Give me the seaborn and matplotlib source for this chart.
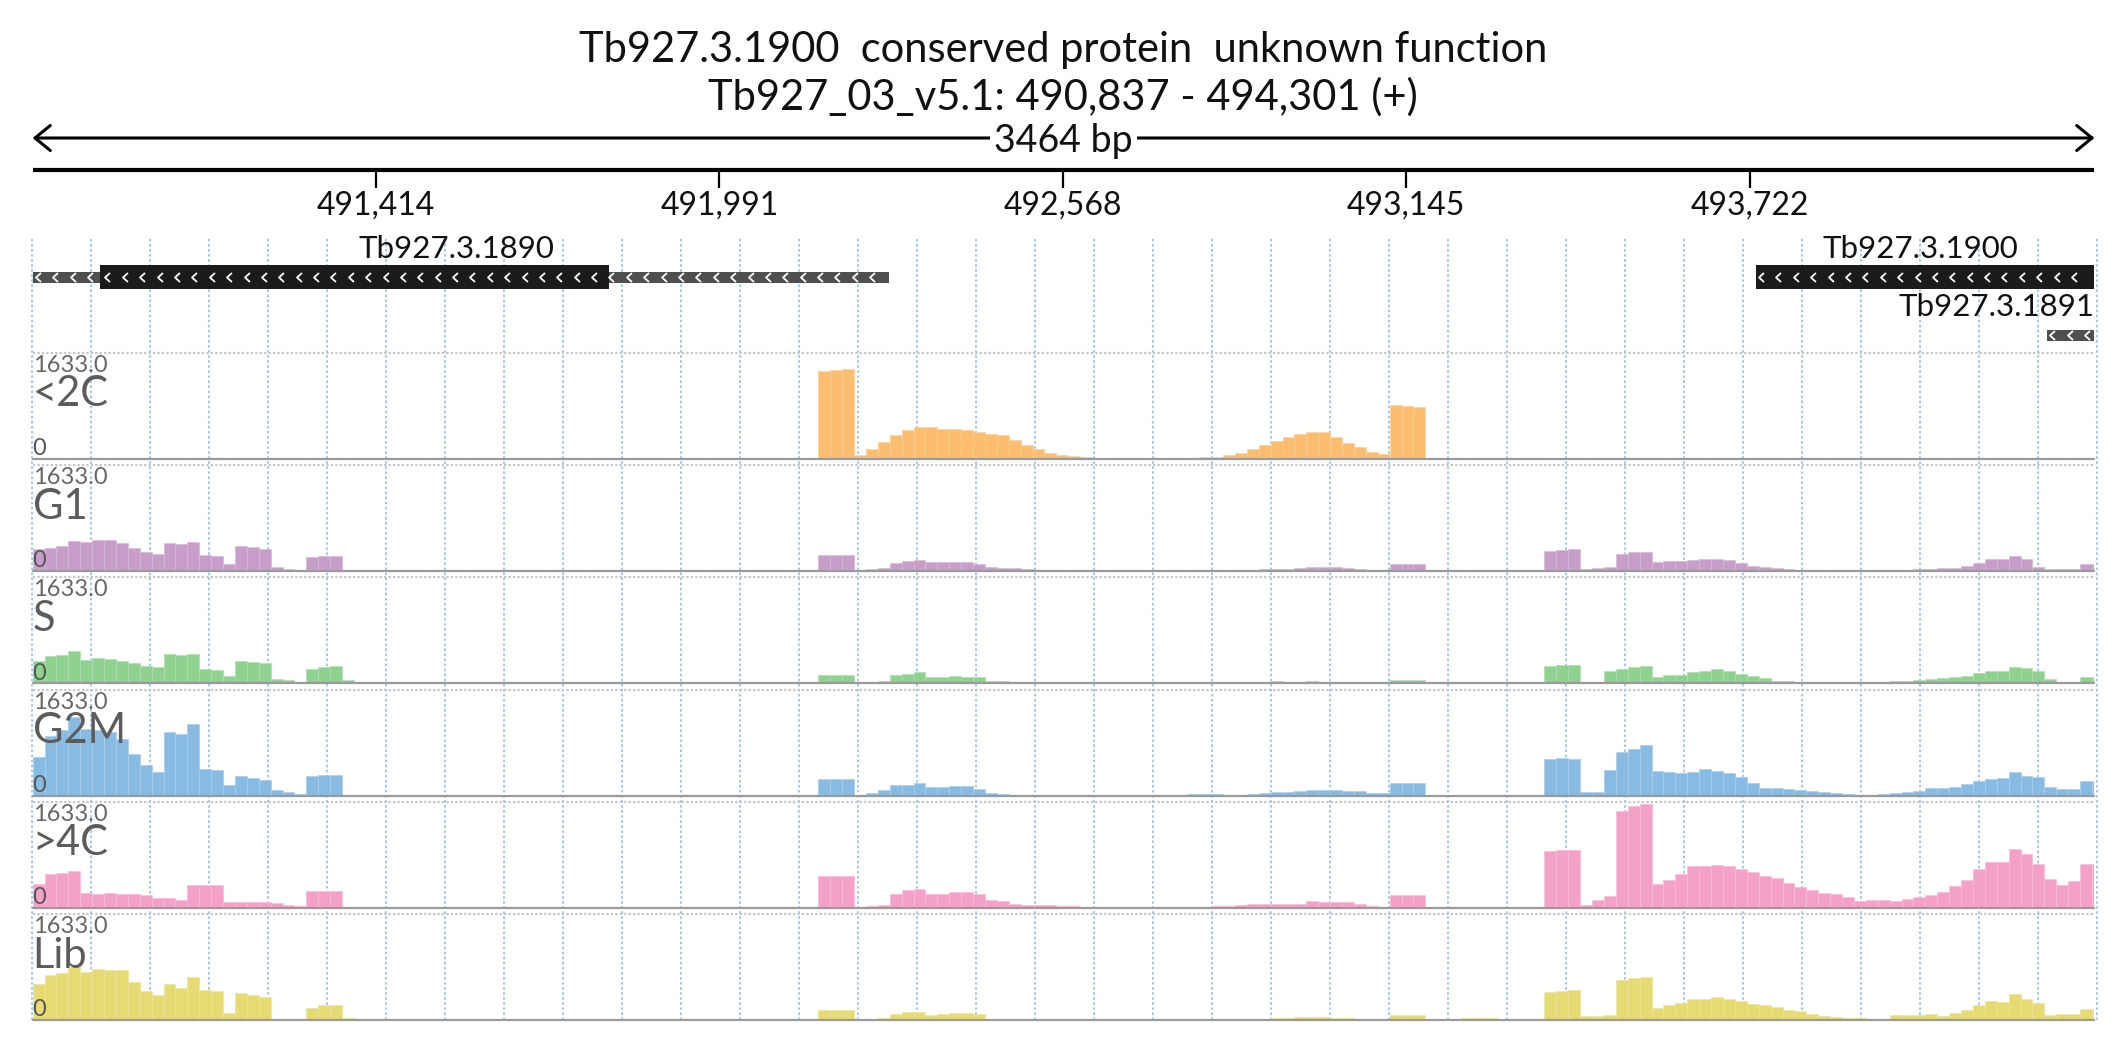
import numpy as np
import pandas as pd
import matplotlib
matplotlib.use("Agg")
import matplotlib.pyplot as plt
import seaborn as sns
from matplotlib.path import Path

sns.set_theme(style="white")
plt.rcParams["font.family"] = ["Lato", "DejaVu Sans"]

# ---------------- data ----------------
TITLE = "Tb927.3.1900  conserved protein  unknown function"
SUBTITLE = "Tb927_03_v5.1: 490,837 - 494,301 (+)"
REGION_START = 490837
REGION_END = 494301
BIN_BP = 20
YMAX = 1633.0
tick_positions = [491414, 491991, 492568, 493145, 493722]

gene_names = ["Tb927.3.1890", "Tb927.3.1900", "Tb927.3.1891"]
gene_starts = [490837, 493732, 494221]
gene_ends = [492276, 494301, 494301]
cds_starts = [490950, 493732, None]
cds_ends = [491805, 494301, None]
gene_rows = [0, 0, 1]

track_names = ["<2C", "G1", "S", "G2M", ">4C", "Lib"]

cov_lt2c = [
    0, 0, 0, 0, 0, 0, 0, 0, 0, 0,
    0, 0, 0, 0, 0, 0, 0, 0, 0, 0,
    0, 0, 0, 0, 0, 0, 0, 0, 0, 0,
    0, 0, 0, 0, 0, 0, 0, 0, 0, 0,
    0, 0, 0, 0, 0, 0, 0, 0, 0, 0,
    0, 0, 0, 0, 0, 0, 0, 0, 0, 0,
    0, 0, 0, 0, 0, 0, 1356, 1361, 1381, 56,
    144, 262, 365, 442, 488, 483, 462, 452, 447, 416,
    385, 365, 288, 205, 144, 92, 62, 36, 21, 10,
    5, 5, 5, 10, 5, 5, 5, 10, 21, 31,
    56, 92, 154, 211, 277, 339, 375, 411, 416, 329,
    246, 175, 98, 72, 827, 806, 801, 0, 0, 0,
    0, 0, 0, 0, 0, 0, 0, 0, 0, 0,
    0, 0, 0, 0, 0, 0, 0, 0, 0, 0,
    0, 0, 0, 0, 0, 0, 0, 0, 0, 0,
    0, 0, 0, 0, 0, 0, 0, 0, 0, 0,
    0, 0, 0, 0, 0, 0, 0, 0, 0, 0,
    0, 0, 0, 0,
]
cov_g1 = [
    334, 349, 385, 462, 442, 483, 478, 426, 349, 293,
    257, 431, 416, 452, 252, 231, 108, 380, 375, 344,
    56, 31, 10, 216, 226, 226, 15, 0, 0, 0,
    0, 0, 0, 0, 0, 0, 0, 0, 0, 0,
    0, 0, 0, 0, 0, 0, 0, 0, 0, 0,
    0, 0, 0, 0, 0, 0, 0, 0, 0, 0,
    0, 0, 0, 0, 0, 0, 246, 246, 246, 10,
    31, 51, 123, 159, 164, 139, 139, 144, 144, 108,
    56, 46, 41, 31, 21, 15, 15, 10, 5, 5,
    5, 5, 10, 10, 10, 10, 5, 5, 15, 15,
    15, 15, 15, 26, 26, 31, 46, 56, 56, 56,
    46, 26, 15, 10, 108, 108, 108, 0, 0, 0,
    0, 0, 0, 0, 0, 0, 0, 308, 323, 334,
    36, 41, 56, 262, 293, 293, 134, 149, 154, 175,
    185, 185, 169, 128, 82, 56, 41, 26, 21, 15,
    10, 10, 10, 10, 10, 10, 21, 21, 26, 36,
    41, 41, 72, 118, 180, 180, 231, 190, 67, 26,
    26, 26, 103, 103,
]
cov_s = [
    347, 418, 434, 490, 357, 393, 377, 347, 306, 265,
    245, 444, 439, 444, 219, 199, 117, 337, 326, 306,
    61, 51, 20, 219, 255, 260, 46, 0, 0, 0,
    0, 0, 0, 0, 0, 0, 0, 0, 0, 0,
    0, 0, 0, 0, 0, 0, 0, 0, 0, 0,
    0, 0, 0, 0, 0, 0, 0, 0, 0, 0,
    0, 0, 0, 0, 0, 0, 128, 128, 128, 15,
    15, 36, 122, 143, 168, 92, 92, 112, 102, 92,
    36, 36, 20, 20, 10, 10, 0, 0, 0, 0,
    0, 0, 0, 0, 0, 0, 0, 10, 10, 10,
    5, 5, 15, 15, 31, 15, 15, 31, 20, 15,
    15, 15, 5, 5, 56, 56, 56, 0, 0, 0,
    0, 0, 0, 0, 0, 0, 0, 265, 275, 275,
    15, 15, 190, 224, 245, 265, 102, 122, 133, 173,
    189, 214, 189, 143, 112, 77, 36, 31, 26, 15,
    15, 5, 5, 10, 20, 20, 31, 36, 51, 61,
    82, 97, 112, 158, 194, 194, 245, 235, 189, 66,
    15, 15, 92, 92,
]
cov_g2m = [
    597, 913, 1005, 1209, 1030, 1005, 979, 877, 648, 469,
    367, 979, 944, 1107, 413, 393, 163, 296, 270, 240,
    87, 56, 31, 296, 316, 316, 15, 0, 0, 0,
    0, 0, 0, 0, 0, 0, 0, 0, 0, 0,
    0, 0, 0, 0, 0, 0, 0, 0, 0, 0,
    0, 0, 0, 0, 0, 0, 0, 0, 0, 0,
    0, 0, 0, 0, 0, 0, 250, 250, 250, 10,
    36, 87, 163, 163, 189, 128, 128, 148, 148, 97,
    36, 20, 5, 15, 5, 5, 5, 5, 5, 5,
    15, 5, 5, 5, 5, 5, 5, 26, 26, 26,
    15, 5, 31, 46, 56, 56, 77, 92, 82, 82,
    71, 71, 36, 36, 189, 189, 189, 0, 0, 0,
    0, 0, 0, 0, 0, 0, 0, 566, 581, 571,
    51, 61, 393, 668, 724, 785, 372, 357, 352, 362,
    403, 377, 342, 291, 189, 117, 117, 102, 87, 77,
    61, 41, 20, 5, 5, 26, 46, 61, 77, 122,
    122, 133, 184, 230, 260, 270, 362, 306, 280, 128,
    102, 102, 224, 224,
]
cov_gt4c = [
    375, 519, 544, 570, 231, 221, 236, 211, 221, 200,
    159, 159, 118, 359, 359, 354, 87, 98, 92, 87,
    72, 41, 31, 262, 262, 262, 0, 0, 0, 0,
    0, 0, 0, 0, 0, 0, 0, 0, 0, 0,
    0, 0, 0, 0, 0, 0, 0, 0, 0, 0,
    0, 0, 0, 0, 0, 0, 0, 0, 0, 0,
    0, 0, 0, 0, 0, 0, 488, 488, 488, 10,
    26, 52, 211, 280, 298, 221, 221, 252, 252, 221,
    123, 103, 67, 46, 51, 51, 36, 36, 15, 5,
    5, 5, 5, 5, 5, 5, 5, 15, 15, 31,
    31, 41, 67, 67, 62, 56, 56, 103, 87, 87,
    87, 56, 36, 15, 195, 195, 195, 0, 0, 0,
    0, 0, 0, 0, 0, 0, 0, 878, 899, 888,
    51, 118, 180, 1494, 1571, 1597, 365, 436, 529, 652,
    652, 662, 642, 600, 555, 493, 462, 390, 320, 270,
    231, 211, 169, 113, 118, 118, 108, 134, 169, 205,
    247, 330, 426, 606, 709, 709, 900, 837, 683, 452,
    349, 411, 683, 683,
]
cov_lib = [
    565, 693, 729, 822, 745, 786, 781, 770, 591, 452,
    385, 565, 503, 668, 472, 447, 118, 421, 390, 359,
    26, 15, 10, 190, 231, 231, 36, 0, 0, 0,
    0, 0, 0, 0, 0, 0, 0, 0, 0, 0,
    0, 0, 0, 0, 0, 0, 0, 0, 0, 0,
    0, 0, 0, 0, 0, 0, 0, 0, 0, 0,
    0, 0, 0, 0, 0, 0, 154, 154, 154, 10,
    10, 31, 103, 128, 128, 87, 92, 118, 118, 98,
    26, 10, 10, 10, 10, 10, 10, 10, 10, 10,
    10, 10, 10, 10, 10, 10, 10, 10, 10, 15,
    10, 10, 10, 15, 31, 31, 46, 46, 46, 31,
    31, 15, 15, 15, 82, 82, 82, 0, 0, 20,
    41, 41, 41, 10, 10, 10, 10, 436, 452, 472,
    67, 67, 77, 626, 647, 668, 190, 241, 272, 323,
    323, 354, 334, 293, 257, 236, 205, 154, 139, 103,
    72, 51, 41, 36, 26, 26, 77, 77, 77, 98,
    67, 118, 164, 231, 293, 282, 400, 323, 267, 87,
    92, 103, 180, 180,
]

track_values = [cov_lt2c, cov_g1, cov_s, cov_g2m, cov_gt4c, cov_lib]

# ---------------- style ----------------
track_colors = ["#FDBD6E", "#C99DCA", "#8FD18F", "#88BBE3", "#F5A1C7", "#E6DA73"]
W, H = 2126, 1058
X0, X1 = 32.6, 2094.4
TRACK_TOP0 = 352.7
TRACK_STEP = 112.3
TRACK_H = 106.0

fig = plt.figure(figsize=(W / 100, H / 100), dpi=100)


def px_axes(x0, y0, x1, y1):
    ax = fig.add_axes([x0 / W, 1 - y1 / H, (x1 - x0) / W, (y1 - y0) / H])
    ax.set_xlim(REGION_START, REGION_END)
    ax.set_axis_off()
    return ax


def lighten(c, f):
    r, g, b = matplotlib.colors.to_rgb(c)
    return (r + (1 - r) * f, g + (1 - g) * f, b + (1 - b) * f)


# background dashed grid
ax_bg = px_axes(X0, 237, X1, 1020)
ax_bg.set_ylim(0, 1)
grid_step = (REGION_END - REGION_START + 6) / 35.0
grid_x = REGION_START - 1 + grid_step * np.arange(36)
ax_bg.vlines(grid_x, 0, 1, colors="#9fc8ee", linestyles=(0, (1.3, 1.3)),
             linewidth=1.4, clip_on=False)

# ruler + genes
ax_top = px_axes(X0, 0, X1, 350)
ax_top.set_ylim(350, 0)
ax_top.annotate("", xy=(REGION_END, 138), xytext=(REGION_START, 138),
                arrowprops=dict(arrowstyle="<->,head_length=0.55,head_width=0.45",
                                lw=2.2, color="black", shrinkA=0, shrinkB=0,
                                mutation_scale=20),
                annotation_clip=False)
ax_top.text((REGION_START + REGION_END) / 2, 152, f"{REGION_END - REGION_START} bp",
            ha="center", va="baseline", fontsize=27, color="#111111",
            bbox=dict(boxstyle="square,pad=0.12", fc="white", ec="none"))
ax_top.plot([REGION_START, REGION_END], [170, 170], color="black", lw=3.0,
            solid_capstyle="butt", clip_on=False)
ax_top.vlines(tick_positions, 170, 188, colors="black", linewidth=1.6)
for t in tick_positions:
    ax_top.text(t, 215, f"{t:,}", ha="center", va="baseline", fontsize=23,
                color="#111111")

chev = Path([(0.55, 1.0), (-0.55, 0.0), (0.55, -1.0)],
            [Path.MOVETO, Path.LINETO, Path.LINETO])
row_y = [277, 335]
label_y = [258, 316]
for name, gs, ge, cs, ce, row in zip(gene_names, gene_starts, gene_ends,
                                     cds_starts, cds_ends, gene_rows):
    yc = row_y[row]
    ax_top.fill_between([gs, ge], yc - 5.5, yc + 5.5, color="#4f4f4f", lw=0)
    if cs is not None:
        ax_top.fill_between([cs, ce], yc - 12, yc + 12, color="#1b1b1b", lw=0)
    cx = np.arange(gs + 9, ge - 6, 29.2)
    ax_top.plot(cx, np.full(len(cx), yc), ls="none", marker=chev, ms=6.5,
                mfc="none", mec="white", mew=1.3)
    if row == 0:
        ax_top.text((gs + ge) / 2 - 8, label_y[row], name, ha="center", va="baseline",
                    fontsize=22.5, color="#111111")
    else:
        ax_top.text(ge, label_y[row], name, ha="right", va="baseline",
                    fontsize=22.5, color="#111111")

# coverage tracks
n_bins = len(cov_g1)
edges = REGION_START + BIN_BP * np.arange(n_bins + 1)
centers = edges[:-1] + BIN_BP / 2
for k, (name, vals, col) in enumerate(zip(track_names, track_values, track_colors)):
    top = TRACK_TOP0 + k * TRACK_STEP
    ax = px_axes(X0, top, X1, top + TRACK_H)
    df = pd.DataFrame({"pos": centers, "cov": np.asarray(vals, dtype=float)})
    sns.histplot(data=df, x="pos", weights="cov", binwidth=BIN_BP,
                 binrange=(float(edges[0]), float(edges[-1])), ax=ax,
                 color=col, alpha=1.0, edgecolor=lighten(col, 0.3),
                 linewidth=0.5, legend=False)
    ax.set_xlim(REGION_START, REGION_END)
    ax.set_ylim(0, YMAX)
    ax.set_axis_off()
    ax.axhline(0, color="#9a9a9a", lw=1.6, clip_on=False, zorder=3)
    ax.axhline(YMAX, color="#c4c4c4", lw=1.6, ls=(0, (1, 1)), clip_on=False, zorder=3)
    ax.text(0.0, 0.82, f"{YMAX:.1f}", transform=ax.transAxes, ha="left",
            va="baseline", fontsize=17, color="#666666", zorder=5)
    ax.text(0.0, 0.495, name, transform=ax.transAxes, ha="left",
            va="baseline", fontsize=30, color="#5c5c5c", zorder=5)
    ax.text(0.0, 0.035, "0", transform=ax.transAxes, ha="left",
            va="baseline", fontsize=17, color="#555555", zorder=5)

# titles
fig.text(0.5, 1 - 61.7 / H, TITLE, ha="center", va="baseline", fontsize=30,
         color="#111111")
fig.text(0.5, 1 - 110 / H, SUBTITLE, ha="center", va="baseline", fontsize=30,
         color="#111111")

fig.savefig("out.png", dpi=100, facecolor="white")
